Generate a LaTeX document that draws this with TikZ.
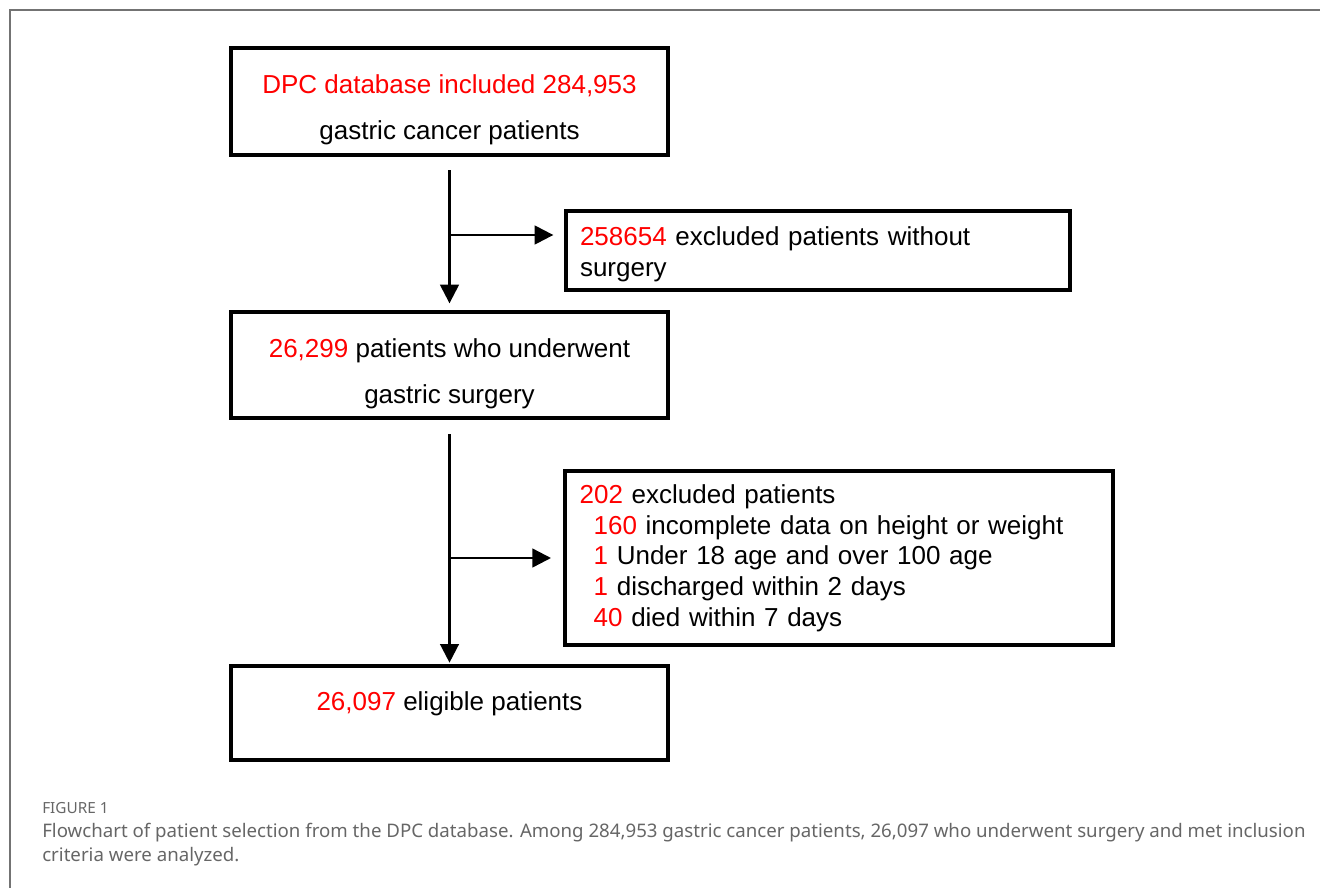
\documentclass[tikz,border=0pt]{standalone}
\usepackage{fontspec}
\setmainfont{Liberation Sans}
\newfontfamily\capfont{Noto Sans}
\usetikzlibrary{arrows.meta}

\def\px{0.75pt}
\newcommand{\ind}{\hspace*{10.5pt}}
\newcommand{\num}[1]{\textcolor{red}{#1}}

\begin{document}
\begin{tikzpicture}[x=\px,y=-\px,>={Triangle[length=14pt,width=14pt]}]
    \tikzstyle{stage}=[draw,line width=3pt,minimum width=327.75pt,align=center,
        font=\fontsize{19.5pt}{34.5pt}\selectfont]
    \tikzstyle{exclusion}=[draw,line width=3pt,align=left,
        font=\fontsize{19.5pt}{23pt}\selectfont]
    \tikzstyle{flow}=[->,line width=1.8pt]
    \tikzstyle{caption}=[anchor=north west,inner sep=0pt,align=left,text=black!60,
        font=\capfont\fontsize{14pt}{18pt}\selectfont]

    \useasboundingbox (0,0) rectangle (1320,888);
    \draw[black!55,line width=1.2pt] (1320,10) -- (10,10) -- (10,888);

    \node[stage,minimum height=80.25pt] (dpc) at (449.5,101.5)
        {\rule{0pt}{26pt}\num{DPC database included 284,953}\\gastric cancer patients};
    \node[exclusion,minimum height=59.25pt,text width=357pt,inner xsep=10.5pt] (nosurg) at (818,250.5)
        {\rule{0pt}{20pt}\num{258654} excluded patients without\\surgery};
    \node[stage,minimum height=79.5pt] (surg) at (449.5,365)
        {\rule{0pt}{27pt}\num{26,299} patients who underwent\\gastric surgery};
    \node[exclusion,minimum height=130.5pt,text width=389pt,inner xsep=11pt] (excl) at (839,558)
        {\num{202} excluded patients\\
         \ind\num{160} incomplete data on height or weight\\
         \ind\num{1} Under 18 age and over 100 age\\
         \ind\num{1} discharged within 2 days\\
         \ind\num{40} died within 7 days};
    \node[stage,minimum height=70.5pt,text depth=18pt] (elig) at (449.5,713)
        {\num{26,097} eligible patients};

    \coordinate (j1) at (449.5,235);
    \coordinate (j2) at (449.5,558);

    \draw[flow,shorten <=10pt,shorten >=5pt] (dpc) -- (surg);
    \draw[flow,shorten >=8pt] (j1) -- (j1 -| nosurg.west);
    \draw[flow,shorten <=10.5pt,shorten >=1pt] (surg) -- (elig);
    \draw[flow,shorten >=9pt] (j2) -- (j2 -| excl.west);

    % Caption
    \node[anchor=west,inner sep=0pt,text=black!60,font=\capfont\bfseries\fontsize{11.5pt}{14pt}\selectfont]
        (fig) at (42,808) {FIGURE 1};
    \node[caption] (cap) at (42,823)
        {Flowchart of patient selection from the DPC database. Among 284,953 gastric cancer patients, 26,097 who underwent surgery and met inclusion\\
         criteria were analyzed.};
\end{tikzpicture}
\end{document}
